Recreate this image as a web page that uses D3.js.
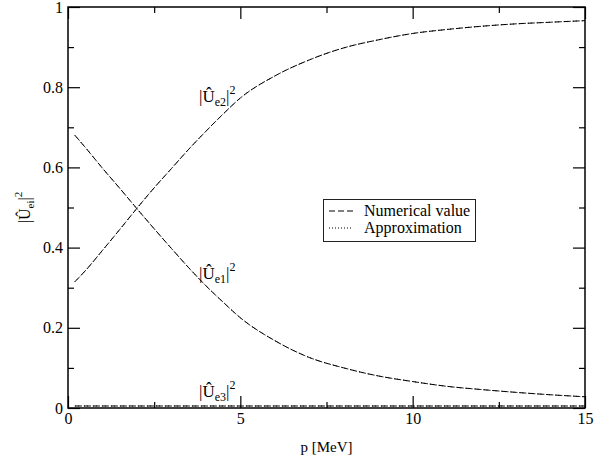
<!DOCTYPE html>
<html lang="en">
  <head>
    <meta charset="UTF-8" />
    <title>Mixing matrix elements</title>
    <style>
      body { margin: 0; background: #fff; }
      svg text, svg tspan { font-family: "Liberation Serif", "DejaVu Serif", serif !important; fill: #000; }
    </style>
  </head>
  <script src="https://d3js.org/d3.v7.min.js"></script>
  <body>
    <div id="chart"></div>
  </body>
  <script>
    // values
    const pValues = [0.2, 0.5, 1, 1.5, 2, 2.5, 3, 3.5, 4, 4.5, 5, 6, 7, 8, 9, 10, 11, 12, 13, 14, 15];
    const ue1 = [0.68, 0.65, 0.598, 0.548, 0.497, 0.447, 0.398, 0.35, 0.305, 0.264, 0.225,
      0.168, 0.126, 0.1, 0.08, 0.066, 0.054, 0.046, 0.039, 0.033, 0.028];
    const ue2 = [0.315, 0.342, 0.393, 0.445, 0.498, 0.549, 0.597, 0.645, 0.69, 0.733, 0.773,
      0.828, 0.868, 0.898, 0.918, 0.934, 0.944, 0.952, 0.958, 0.962, 0.966];
    const ue3 = [0.005, 0.005, 0.005, 0.005, 0.005, 0.005, 0.005, 0.005, 0.005, 0.005, 0.005,
      0.005, 0.005, 0.005, 0.005, 0.005, 0.005, 0.005, 0.005, 0.005, 0.005];
    // approximation lies on top of the numerical curves
    const ue1Approx = ue1, ue2Approx = ue2, ue3Approx = ue3;

    const xMajor = [0, 5, 10, 15];
    const xMinor = [2.5, 7.5, 12.5];
    const yMajor = [0, 0.2, 0.4, 0.6, 0.8, 1];
    const yMinor = [0.1, 0.3, 0.5, 0.7, 0.9];
    const yLabels = ["0", "0.2", "0.4", "0.6", "0.8", "1"];

    const width = 594, height = 465;
    const margin = { top: 7, right: 9, bottom: 57, left: 68 };
    const serif = '"Liberation Serif", "DejaVu Serif", serif';

    const svg = d3.select("#chart").append("svg")
      .attr("width", width).attr("height", height)
      .attr("font-family", serif);

    const x = d3.scaleLinear().domain([0, 15]).range([margin.left, width - margin.right]);
    const y = d3.scaleLinear().domain([0, 1]).range([height - margin.bottom, margin.top]);

    // axes, ticks pointing inward on all four sides
    const axisStyle = (g) => {
      g.attr("font-family", serif).attr("font-size", 16);
      g.select(".domain").remove();
      g.selectAll("line").attr("stroke", "#000").attr("stroke-width", 1.2);
      g.selectAll("text").attr("font-family", serif).style("font-size", "16px").attr("fill", "#000");
    };

    svg.append("g").attr("transform", `translate(0,${y(0)})`)
      .call(d3.axisBottom(x).tickValues(xMajor).tickSize(-12).tickPadding(5).tickFormat(d3.format("d")))
      .call(axisStyle);
    svg.append("g").attr("transform", `translate(0,${y(0)})`)
      .call(d3.axisBottom(x).tickValues(xMinor).tickSize(-6).tickFormat(""))
      .call(axisStyle);
    svg.append("g").attr("transform", `translate(0,${y(1)})`)
      .call(d3.axisTop(x).tickValues(xMajor).tickSize(-12).tickFormat(""))
      .call(axisStyle);
    svg.append("g").attr("transform", `translate(0,${y(1)})`)
      .call(d3.axisTop(x).tickValues(xMinor).tickSize(-6).tickFormat(""))
      .call(axisStyle);

    svg.append("g").attr("transform", `translate(${x(0)},0)`)
      .call(d3.axisLeft(y).tickValues(yMajor).tickSize(-12).tickPadding(5)
        .tickFormat((d, i) => yLabels[i]))
      .call(axisStyle);
    svg.append("g").attr("transform", `translate(${x(0)},0)`)
      .call(d3.axisLeft(y).tickValues(yMinor).tickSize(-6).tickFormat(""))
      .call(axisStyle);
    svg.append("g").attr("transform", `translate(${x(15)},0)`)
      .call(d3.axisRight(y).tickValues(yMajor).tickSize(-12).tickFormat(""))
      .call(axisStyle);
    svg.append("g").attr("transform", `translate(${x(15)},0)`)
      .call(d3.axisRight(y).tickValues(yMinor).tickSize(-6).tickFormat(""))
      .call(axisStyle);

    // frame
    svg.append("rect")
      .attr("x", x(0)).attr("y", y(1))
      .attr("width", x(15) - x(0)).attr("height", y(0) - y(1))
      .attr("fill", "none").attr("stroke", "#000").attr("stroke-width", 1.5);

    // curves
    const line = d3.line()
      .x((d) => x(d[0]))
      .y((d) => y(d[1]))
      .curve(d3.curveMonotoneX);

    const numerical = [ue1, ue2, ue3];
    const approx = [ue1Approx, ue2Approx, ue3Approx];

    numerical.forEach((s) => {
      svg.append("path")
        .datum(pValues.map((p, i) => [p, s[i]]))
        .attr("d", line)
        .attr("fill", "none").attr("stroke", "#000").attr("stroke-width", 1)
        .attr("stroke-dasharray", "6,3");
    });
    approx.forEach((s) => {
      svg.append("path")
        .datum(pValues.map((p, i) => [p, s[i]]))
        .attr("d", line)
        .attr("fill", "none").attr("stroke", "#000").attr("stroke-width", 1)
        .attr("stroke-dasharray", "1,2");
    });

    // curve labels |Û_ei|^2
    function matLabel(g, sub, size, subSize) {
      g.attr("font-family", serif);
      g.append("tspan").text("|Û").style("font-size", size + "px");
      g.append("tspan").text(sub).style("font-size", subSize + "px").attr("dy", 4);
      g.append("tspan").text("|").style("font-size", size + "px").attr("dy", -4);
      g.append("tspan").text("2").style("font-size", subSize + "px").attr("dy", -8);
    }

    const curveLabels = [
      { sub: "e2", x: 199, y: 102 },
      { sub: "e1", x: 199, y: 279 },
      { sub: "e3", x: 199, y: 397 }
    ];
    curveLabels.forEach((c) => {
      const t = svg.append("text").attr("x", c.x).attr("y", c.y);
      matLabel(t, c.sub, 17, 12);
    });

    // axis titles
    svg.append("text")
      .attr("x", (x(0) + x(15)) / 2).attr("y", 452)
      .attr("text-anchor", "middle")
      .style("font-size", "15px")
      .text("p [MeV]");

    const yt = svg.append("text")
      .attr("transform", `translate(30,${(y(0) + y(1)) / 2}) rotate(-90)`)
      .attr("text-anchor", "middle");
    matLabel(yt, "ei", 16, 11);

    // legend
    const legend = svg.append("g");
    legend.append("rect")
      .attr("x", 323.5).attr("y", 199.5).attr("width", 152).attr("height", 42)
      .attr("fill", "#fff").attr("stroke", "#222").attr("stroke-width", 1);
    const legendItems = [
      { label: "Numerical value", dash: "6,3", y: 211 },
      { label: "Approximation", dash: "1,2", y: 228 }
    ];
    legendItems.forEach((d) => {
      legend.append("line")
        .attr("x1", 329).attr("x2", 353).attr("y1", d.y).attr("y2", d.y)
        .attr("stroke", "#000").attr("stroke-width", 1)
        .attr("stroke-dasharray", d.dash);
      legend.append("text")
        .attr("x", 364).attr("y", d.y + 5)
        .style("font-size", "16px")
        .text(d.label);
    });
  </script>
</html>
